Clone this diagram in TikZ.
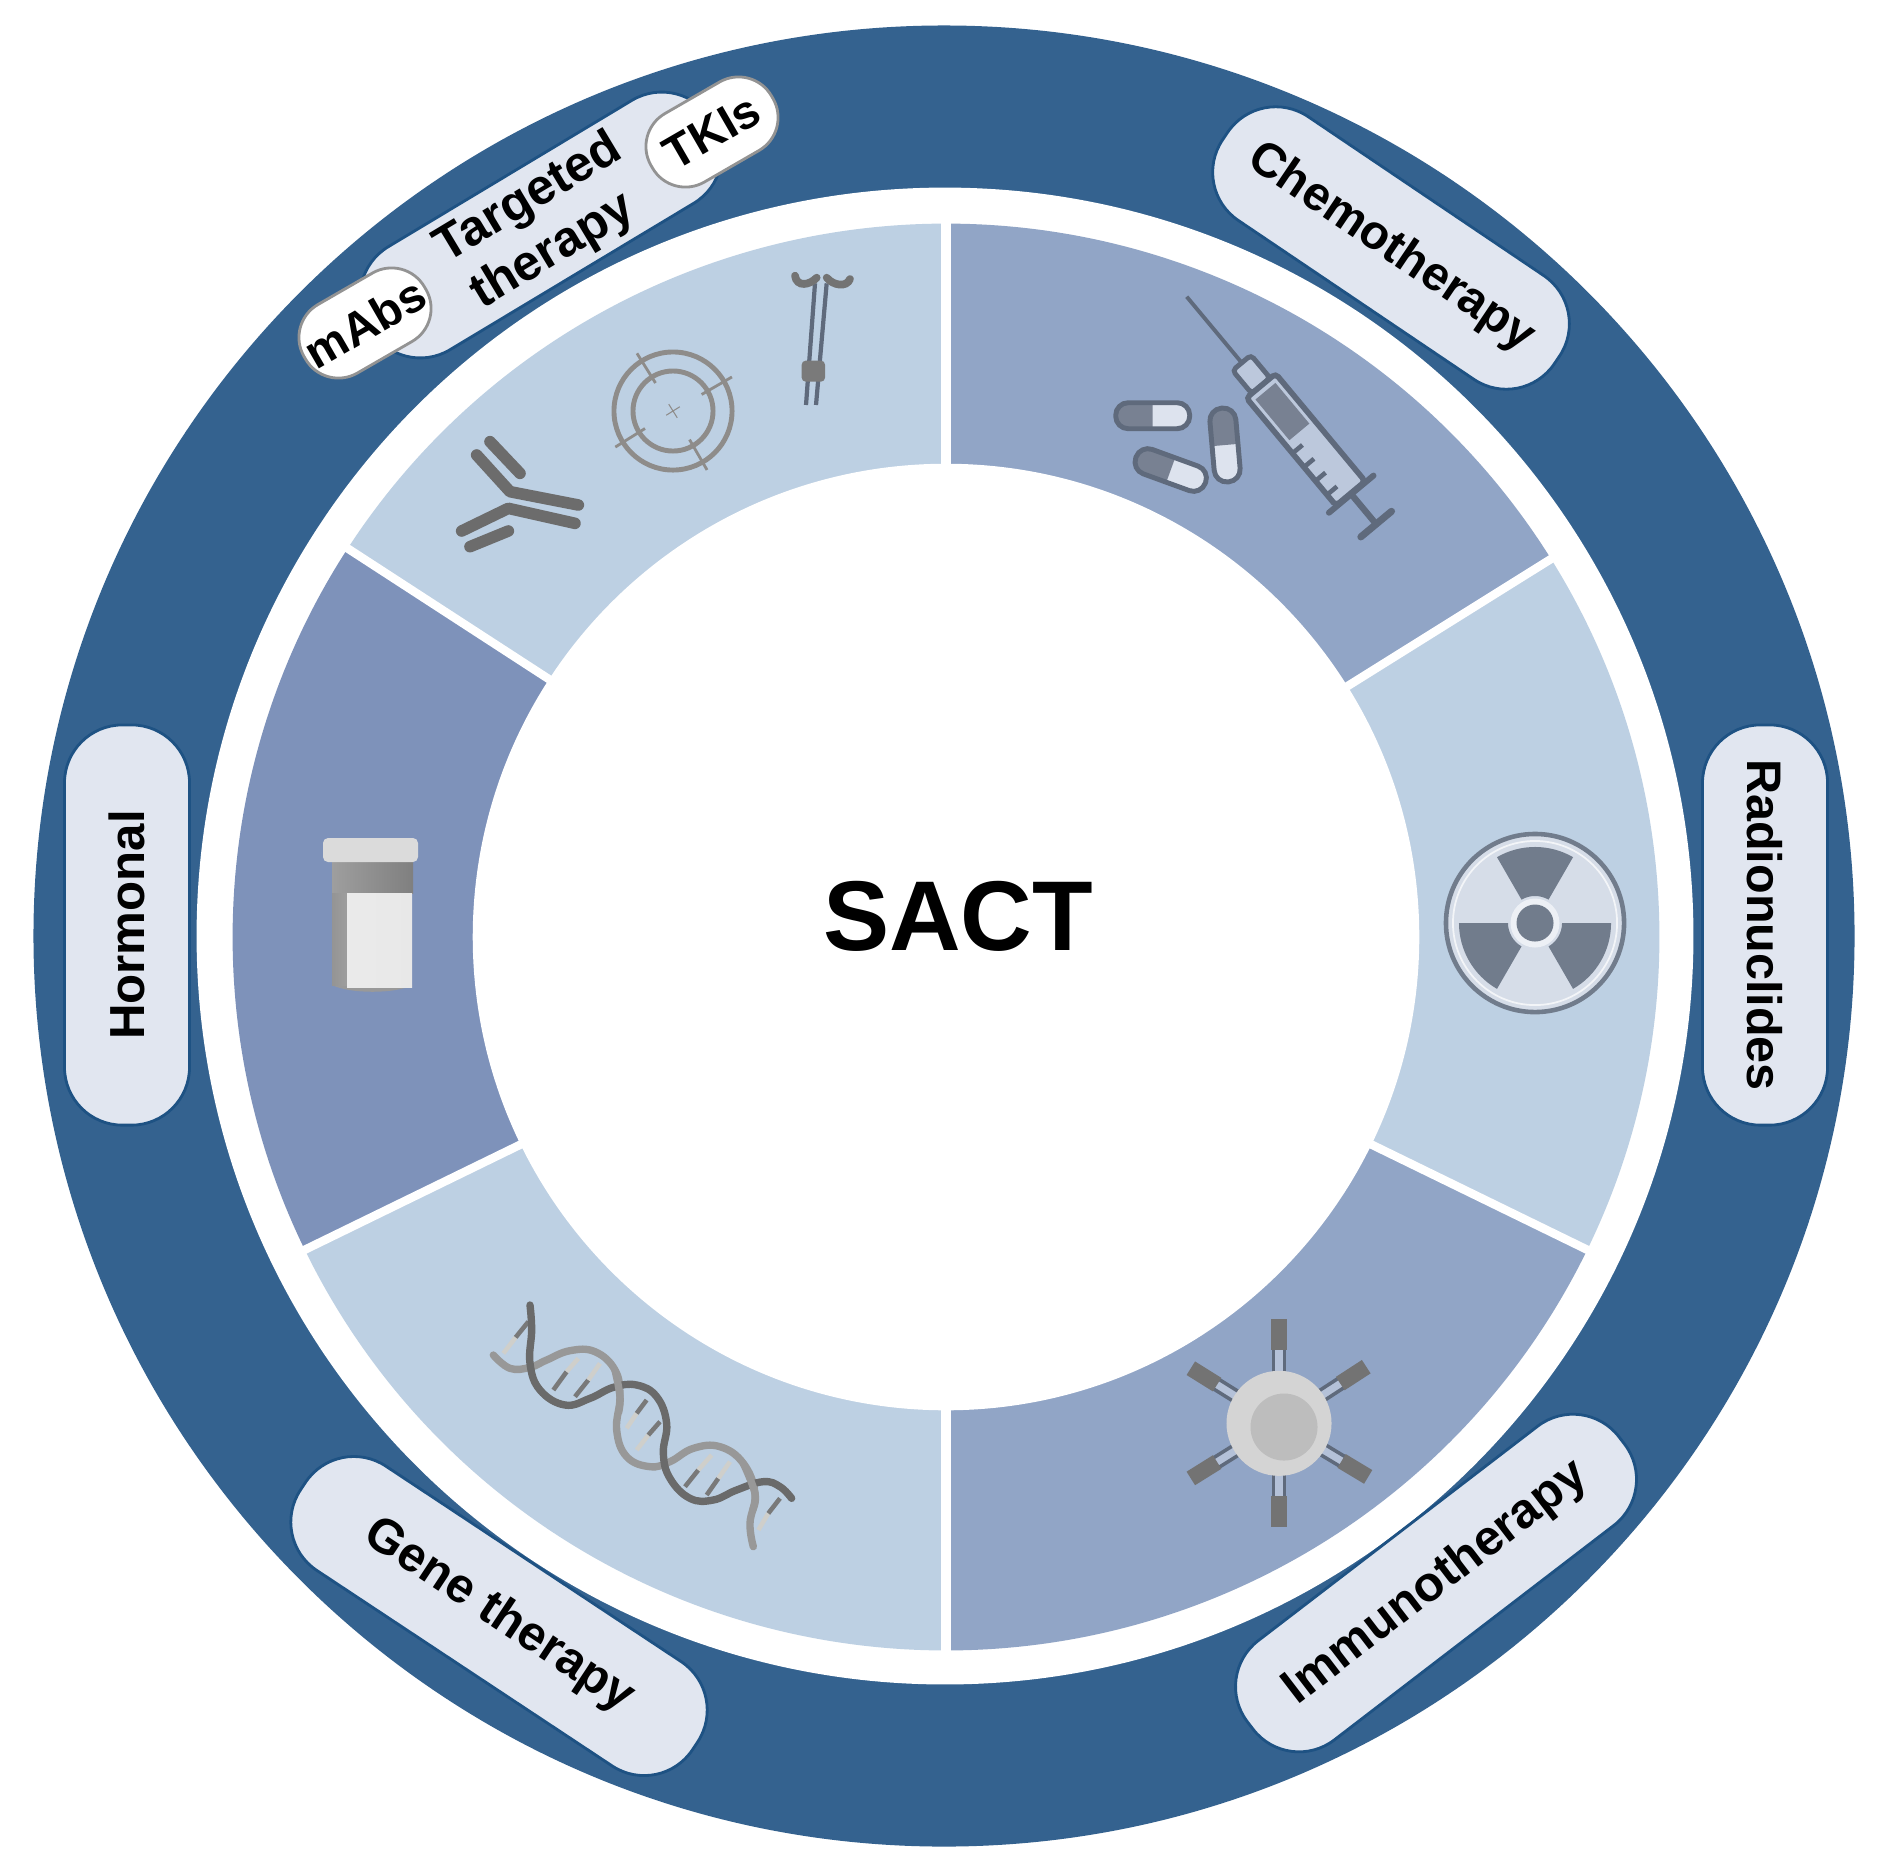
\documentclass[tikz,border=0pt]{standalone}
\usepackage{fontspec}
\setmainfont{Liberation Sans}
\definecolor{ringblue}{HTML}{34628F}
\definecolor{pillfill}{HTML}{E1E6F0}
\definecolor{pilledge}{HTML}{1E5283}
\definecolor{seglight}{HTML}{BDD0E3}
\definecolor{segmid}{HTML}{91A5C6}
\definecolor{segdark}{HTML}{7E92BA}
\definecolor{iconline}{HTML}{5F6A7C}
\definecolor{icondark}{HTML}{788192}
\definecolor{iconpale}{HTML}{BCC8DC}
\definecolor{iconwhite}{HTML}{DDE3EE}
\definecolor{greyicon}{HTML}{6C6C6C}
\definecolor{greyring}{HTML}{8E8C8A}
\definecolor{raddark}{HTML}{717C8C}
\definecolor{radpale}{HTML}{D6DDE8}
\definecolor{dnadark}{HTML}{6A6A6A}
\definecolor{dnalight}{HTML}{989898}
\definecolor{rungpale}{HTML}{CFCFCB}
\newcommand{\bfpt}[1]{\fontsize{#1}{#1}\selectfont\bfseries}
\tikzset{
  pillbox/.style={draw=pilledge,line width=.8pt,fill=pillfill,rounded corners=.58cm,
    minimum width=4cm,minimum height=1.25cm,inner sep=0pt,align=center,text=black},
  tagbox/.style={draw=gray!85,line width=.8pt,fill=white,rounded corners=.38cm,
    minimum width=1.39cm,minimum height=.79cm,inner sep=0pt,text=black,font=\bfpt{13.4}},
  labeltext/.style={inner sep=0pt,text=black,font=\bfpt{14.2}},
  fab/.style={draw=greyicon,line width=3.3pt,line cap=round,line join=round},
  strandA/.style={draw=dnadark,line width=2.1pt,line cap=round},
  strandB/.style={draw=dnalight,line width=2.1pt,line cap=round},
  rungdark/.style={draw=dnadark!90,line width=1.3pt},
  runglight/.style={draw=rungpale,line width=1.3pt},
}
\newcommand{\sectorfill}[3]{\fill[#3] (0,0) -- (#1:7.13) arc[start angle=#1,end angle=#2,radius=7.13cm] -- cycle;}
\newcommand{\bladefill}[2]{\fill[raddark] (#1:.27) -- (#1:.76) arc[start angle=#1,end angle=#2,radius=.76cm] -- (#2:.27) arc[start angle=#2,end angle=#1,radius=.27cm] -- cycle;}
\newcommand{\capsulepill}[3]{%
  \begin{scope}[shift={(#1,#2)},rotate=-#3]
    \fill[iconwhite,rounded corners=.125cm] (-37,-13) rectangle (37,13);
    \begin{scope}
      \clip (-40,-16) rectangle (0,16);
      \fill[icondark,rounded corners=.125cm] (-37,-13) rectangle (37,13);
    \end{scope}
    \draw[iconline,line width=1.4pt,rounded corners=.125cm] (-37,-13) rectangle (37,13);
  \end{scope}}
\newcommand{\tcellray}[1]{%
  \begin{scope}[rotate=#1]
    \fill[iconpale!80!segmid] (50,-5) rectangle (76,5);
    \draw[iconline,line width=1pt] (50,-5.5) -- (76,-5.5) (50,5.5) -- (76,5.5);
    \fill[greyicon!95] (73,-8) rectangle (104,8);
  \end{scope}}
\newcommand{\rungline}[6]{%
  \draw[#5] (#1) -- (#2);
  \draw[#6] (#2) -- (#3);}
\begin{document}
\begin{tikzpicture}[x=.01cm,y=-.01cm]
\useasboundingbox (0,0) rectangle (1877,1872);
\fill[white] (0,0) rectangle (1877,1872);
% outer ring
\fill[ringblue] (944,936) circle[radius=9.10cm];
\fill[white] (945,936) circle[radius=7.48cm];
% segments
\begin{scope}[shift={(946,937)},x=1cm,y=1cm]
  \sectorfill{32}{90}{segmid}
  \sectorfill{-26}{32}{seglight}
  \sectorfill{-90}{-26}{segmid}
  \sectorfill{206}{270}{seglight}
  \sectorfill{147}{206}{segdark}
  \sectorfill{90}{147}{seglight}
  \fill[white] (0,0) circle[radius=4.73cm];
  \draw[white,line width=3.1pt] (90:4.6) -- (90:7.25) (270:4.6) -- (270:7.25);
  \draw[white,line width=2.4pt] (32:4.6) -- (32:7.25) (-26:4.6) -- (-26:7.25)
     (206:4.6) -- (206:7.25) (147:4.6) -- (147:7.25);
\end{scope}
% pills
\node[pillbox,rotate=-34,font=\bfpt{13.6}] (chemo) at (1391,248) {Chemotherapy};
\node[pillbox,rotate=-90,font=\bfpt{13.8}] (radio) at (1765,925) {Radionuclides};
\node[pillbox,rotate=37.5,minimum width=4.68cm,font=\bfpt{14}] (immuno) at (1436,1583) {Immunotherapy};
\node[pillbox,rotate=-33.5,minimum width=4.7cm,font=\bfpt{13.9}] (gene) at (499,1616) {Gene therapy};
\node[pillbox,rotate=90,font=\bfpt{14}] (hormonal) at (127,925) {Hormonal};
\node[pillbox,rotate=31,minimum height=1.2cm] (targeted) at (541,225) {};
\node[labeltext,rotate=31] (targetedA) at (529,199) {Targeted};
\node[labeltext,rotate=31] (targetedB) at (553,252) {therapy};
\node[tagbox,rotate=30] (mabs) at (365,323) {mAbs};
\node[tagbox,rotate=30] (tkis) at (712,132) {TKIs};
% SACT
\node[inner sep=0pt,text=black,font=\bfpt{28.2}] (sact) at (958,916) {SACT};
% syringe
\begin{scope}[shift={(1186.7,296.7)},rotate=-50.2]
  \draw[iconline,line width=1.1pt] (0,0) -- (85,0);
  \draw[iconline,line width=1.4pt,fill=iconpale,rounded corners=.04cm] (86,-12) rectangle (116,12);
  \draw[iconline,line width=1.6pt,fill=iconpale,rounded corners=.04cm] (116,-19) rectangle (256,19);
  \fill[icondark] (123,-13) rectangle (176,13);
  \foreach \t in {188,206,224,242}{\draw[iconline,line width=1.3pt] (\t,18) -- (\t,6);}
  \draw[iconline,line width=1.7pt,line cap=round] (257,-29) -- (257,29);
  \draw[iconline,line width=1.8pt] (257,0) -- (295,0);
  \draw[iconline,line width=2pt,line cap=round] (296,-20) -- (296,20);
\end{scope}
\capsulepill{1152.7}{415.7}{0}
\capsulepill{1225}{445}{85}
\capsulepill{1170.7}{470}{20}
% radiation
\begin{scope}[shift={(1535,923)},x=1cm,y=1cm]
  \draw[raddark,line width=1.3pt,fill=radpale] (0,0) circle[radius=.89cm];
  \draw[white!70!radpale,line width=.5pt] (0,0) circle[radius=.82cm];
  \bladefill{60}{120}
  \bladefill{180}{240}
  \bladefill{300}{360}
  \fill[white!55!radpale] (0,0) circle[radius=.245cm];
  \fill[raddark] (0,0) circle[radius=.185cm];
\end{scope}
% T cell
\begin{scope}[shift={(1279,1423.3)}]
  \foreach \a in {90,270,148,212,33,-31}{\tcellray{\a}}
  \fill[white!83!black] (0,0) circle[radius=.525cm];
\end{scope}
\fill[white!74!black] (1284,1427) circle[radius=.335cm];
% DNA
\begin{scope}[shift={(480,1290)},scale=.3333]
  \rungline{70,190}{107,142}{145,95}{}{runglight}{rungdark}
  \rungline{220,300}{260,245}{295,205}{}{rungdark}{runglight}
  \rungline{285,320}{325,270}{360,220}{}{rungdark}{runglight}
  \rungline{440,415}{470,370}{500,330}{}{runglight}{rungdark}
  \rungline{470,480}{505,435}{540,395}{}{runglight}{rungdark}
  \rungline{615,590}{655,540}{695,495}{}{rungdark}{runglight}
  \rungline{680,615}{715,565}{750,515}{}{rungdark}{runglight}
  \rungline{835,720}{865,670}{900,625}{}{runglight}{rungdark}
  \draw[strandB] plot[smooth,tension=.7] coordinates {(40,195) (90,235) (150,232) (200,210) (270,182) (345,185) (405,240) (420,320) (410,420) (440,500) (510,530) (570,515) (640,475) (720,470) (790,520) (825,610) (810,700) (820,770)};
  \draw[strandA] plot[smooth,tension=.7] coordinates {(150,45) (155,120) (150,220) (180,300) (255,345) (330,325) (400,292) (470,285) (530,320) (560,400) (550,490) (570,565) (630,625) (700,630) (770,600) (850,575) (900,590) (935,625)};
  \draw[strandB,line cap=butt] plot[smooth,tension=.7] coordinates {(405,240) (420,320) (415,370)};
  \draw[strandB,line cap=butt] plot[smooth,tension=.7] coordinates {(790,520) (825,610) (818,660)};
\end{scope}
% bottle
\fill[gray!80] (332,985) -- (413,985) .. controls (395,994) and (350,994) .. (332,985) -- cycle;
\fill[left color=white!62!black,right color=white!50!black] (332,862) rectangle (413,893);
\fill[left color=white!58!black,right color=white!62!black] (332,893) rectangle (347,985);
\fill[left color=white!92!black,middle color=white!97!black,right color=white!91!black] (347,893) rectangle (412,987);
\fill[white!86!black,rounded corners=.05cm] (323,838) rectangle (418,862);
% target
\draw[greyring,line width=1.4pt] (673,411) circle[radius=.59cm];
\draw[greyring,line width=1.4pt] (673,411) circle[radius=.40cm];
\begin{scope}[shift={(673,411)},x=1cm,y=1cm]
  \foreach \a in {122,30,-60,212}{\draw[greyring,line width=.8pt] (\a:.33) -- (\a:.68);}
  \draw[greyring,line width=.3pt] (122:.08) -- (-58:.08) (32:.08) -- (212:.08);
\end{scope}
% receptor
\begin{scope}[shift={(780,265)},scale=.3333]
  \draw[iconline,line width=1.2pt] (105,55) -- (78,420) (140,55) -- (108,420);
  \draw[greyicon!95,line width=2.2pt,line cap=round] (45,32) .. controls (50,68) and (90,60) .. (110,38);
  \draw[greyicon!95,line width=2.2pt,line cap=round] (140,38) .. controls (160,62) and (200,68) .. (210,42);
  \fill[white!48!black,rounded corners=.04cm] (65,287) rectangle (135,350);
\end{scope}
% antibody
\begin{scope}[shift={(445,425)},scale=.3333]
  \draw[fab] (135,50) -- (225,145);
  \draw[fab] (95,90) -- (195,200) -- (400,240);
  \draw[fab] (50,318) -- (190,250) -- (390,295);
  \draw[fab] (75,365) -- (190,318);
\end{scope}
\end{tikzpicture}
\end{document}
